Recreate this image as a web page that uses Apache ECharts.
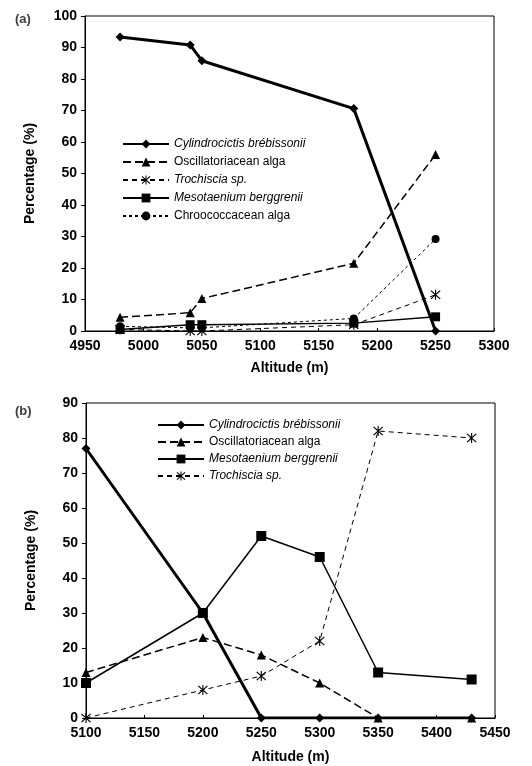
<!DOCTYPE html>
<html>
<head>
<meta charset="utf-8">
<script src="https://cdn.jsdelivr.net/npm/echarts@6/dist/echarts.min.js"></script>
<style>
  html, body { margin: 0; padding: 0; background: #fff; }
  #main { width: 532px; height: 766px; }
</style>
</head>
<body>
<div id="main"></div>
<script type="text/javascript">
    // panel (a) data
    var altA = [4980, 5040, 5050, 5180, 5250];
    var cylA = [93.3, 90.8, 85.8, 70.6, 0];
    var oscA = [4.4, 5.8, 10.3, 21.5, 56];
    var troA = [0.5, 0, 0, 2, 11.5];
    var mesA = [0.5, 2, 2, 2.5, 4.5];
    var chrA = [1.5, 1, 1, 4, 29.2];

    // panel (b) data
    var altB = [5100, 5200, 5250, 5300, 5350, 5430];
    var cylB = [77, 30, 0, 0, 0, 0];
    var oscB = [13, 23, 18, 10, 0, 0];
    var mesB = [10, 30, 52, 46, 13, 11];
    var troB = [0, 8, 12, 22, 82, 80];

    var NAME_CYL = 'Cylindrocictis brébissonii';
    var NAME_OSC = 'Oscillatoriacean alga';
    var NAME_TRO = 'Trochiscia sp.';
    var NAME_MES = 'Mesotaenium berggrenii';
    var NAME_CHR = 'Chroococcacean alga';

    var asterisk = 'path://M-1,-10 L1,-10 L1,10 L-1,10 Z M-9,-7.5 L-7.5,-9 L9,7.5 L7.5,9 Z M7.5,-9 L9,-7.5 L-7.5,9 L-9,7.5 Z';

    function pairs(xs, ys) {
        return xs.map(function (x, i) { return [x, ys[i]]; });
    }

    var font = 'Liberation Sans, Arial, sans-serif';

    function xAxis(idx, min, max, gap) {
        return {
            type: 'value', gridIndex: idx, min: min, max: max, interval: 50,
            name: 'Altitude (m)', nameLocation: 'middle', nameGap: gap,
            nameTextStyle: { fontWeight: 'bold', fontSize: 14, color: '#000', fontFamily: font },
            axisLine: { lineStyle: { color: '#000', width: 1 } },
            axisTick: { inside: true, length: 3, lineStyle: { color: '#000' } },
            axisLabel: { fontWeight: 'bold', fontSize: 14, color: '#000', fontFamily: font, margin: 8,
                         formatter: function (v) { return String(v); } },
            splitLine: { show: false }
        };
    }
    function yAxis(idx, max) {
        return {
            type: 'value', gridIndex: idx, min: 0, max: max, interval: 10,
            name: 'Percentage (%)', nameLocation: 'middle', nameGap: 48,
            nameTextStyle: { fontWeight: 'bold', fontSize: 14, color: '#000', fontFamily: font },
            axisLine: { show: true, lineStyle: { color: '#000', width: 1 } },
            axisTick: { show: true, length: 4, lineStyle: { color: '#000' } },
            axisLabel: { fontWeight: 'bold', fontSize: 14, color: '#000', fontFamily: font, margin: 8 },
            splitLine: { show: false }
        };
    }

    function line(name, idx, data, symbol, size, width, type) {
        return {
            name: name, type: 'line', xAxisIndex: idx, yAxisIndex: idx,
            data: data, symbol: symbol, symbolSize: size,
            lineStyle: { color: '#000', width: width, type: type },
            itemStyle: { color: '#000' },
            animation: false
        };
    }

    var legendText = { fontSize: 12, color: '#000', fontFamily: font };
    function legendItem(name, italic) {
        return { name: name, textStyle: { fontStyle: italic ? 'italic' : 'normal' } };
    }

    var myChart = echarts.init(document.getElementById('main'));

    var option = {
        backgroundColor: '#fff',
        title: [
            { text: '(a)', left: 10, top: 8, textStyle: { fontSize: 13, fontWeight: 'bold', fontFamily: font } },
            { text: '(b)', left: 10, top: 400, textStyle: { fontSize: 13, fontWeight: 'bold', fontFamily: font } }
        ],
        grid: [
            { left: 85, right: 38, top: 16, bottom: 435, show: true, borderColor: '#000', borderWidth: 1 },
            { left: 86, right: 37, top: 403, bottom: 48, show: true, borderColor: '#000', borderWidth: 1 }
        ],
        xAxis: [xAxis(0, 4950, 5300, 30), xAxis(1, 5100, 5450, 32)],
        yAxis: [yAxis(0, 100), yAxis(1, 90)],
        legend: [
            {
                orient: 'vertical', left: 117, top: 133, itemWidth: 46, itemHeight: 11, itemGap: 6,
                textStyle: legendText,
                data: [legendItem(NAME_CYL, true), legendItem(NAME_OSC, false), legendItem(NAME_TRO, true),
                       legendItem(NAME_MES, true), legendItem(NAME_CHR, false)]
            },
            {
                orient: 'vertical', left: 152, top: 414, itemWidth: 46, itemHeight: 11, itemGap: 5,
                textStyle: legendText,
                data: [legendItem(NAME_CYL, true), legendItem(NAME_OSC, false),
                       legendItem(NAME_MES, true), legendItem(NAME_TRO, true)]
            }
        ],
        series: [
            line(NAME_CYL, 0, pairs(altA, cylA), 'diamond', 9, 3, 'solid'),
            line(NAME_OSC, 0, pairs(altA, oscA), 'triangle', 9, 1.5, [8, 4]),
            line(NAME_TRO, 0, pairs(altA, troA), asterisk, 10, 1, [5, 4]),
            line(NAME_MES, 0, pairs(altA, mesA), 'rect', 9, 1.5, 'solid'),
            line(NAME_CHR, 0, pairs(altA, chrA), 'circle', 8, 1, [3, 3]),

            line(NAME_CYL, 1, pairs(altB, cylB), 'diamond', 9, 3, 'solid'),
            line(NAME_OSC, 1, pairs(altB, oscB), 'triangle', 9, 1.5, [8, 4]),
            line(NAME_MES, 1, pairs(altB, mesB), 'rect', 10, 1.5, 'solid'),
            line(NAME_TRO, 1, pairs(altB, troB), asterisk, 10, 1, [5, 4])
        ]
    };

    myChart.setOption(option);
</script>
</body>
</html>
